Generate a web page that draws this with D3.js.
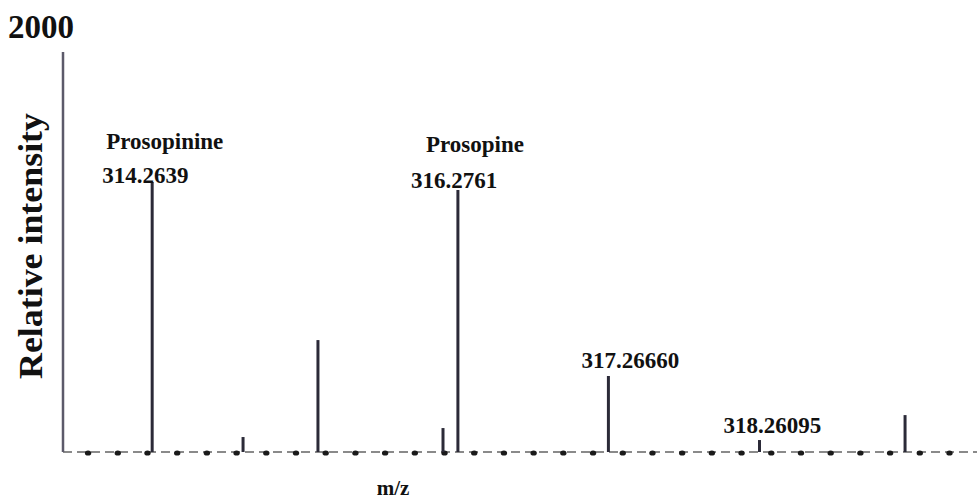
<!DOCTYPE html>
<html>
<head>
<meta charset="utf-8">
<script src="https://cdn.jsdelivr.net/npm/d3@7"></script>
<style>
  body { margin: 0; background: #fff; }
  svg { display: block; }
  text { font-family: "Liberation Serif", "Times New Roman", serif; font-weight: bold; fill: #111; }
</style>
</head>
<body>
<svg id="chart" width="977" height="499"></svg>
<script>
// dados do espectro (m/z e intensidade relativa)
const peakMz = [314.2639, 314.862, 315.355, 316.178, 316.2761, 317.2666, 318.26095, 319.219];
const peakIntensity = [1348, 70, 556, 115, 1308, 376, 55, 180];

// picos anotados
const labelMz = [314.2639, 316.2761, 317.2666, 318.26095];
const labelText = ["314.2639", "316.2761", "317.26660", "318.26095"];
const compoundNames = ["Prosopinine", "Prosopine", "", ""];

const yMaxLabel = "2000";

const svg = d3.select("#chart");
const width = 977, height = 499;
const margin = { top: 52, right: 0, bottom: 48, left: 63 };

const x = d3.scaleLinear()
    .domain([313.677, 319.6925])
    .range([margin.left, width - margin.right]);

const y = d3.scaleLinear()
    .domain([0, 2000])
    .range([height - margin.bottom, margin.top]);

// linha de base tracejada
svg.append("line")
    .attr("x1", x.range()[0])
    .attr("x2", x.range()[1])
    .attr("y1", y(0) + 1)
    .attr("y2", y(0) + 1)
    .attr("stroke", "#8a8a8a")
    .attr("stroke-width", 2)
    .attr("stroke-dasharray", "9,5");

// pontos ao longo da linha de base
const dotTicks = d3.range(313.842, 319.69, 0.1955);
svg.append("g").selectAll("ellipse")
    .data(dotTicks)
    .enter().append("ellipse")
    .attr("cx", d => x(d))
    .attr("cy", y(0) + 2)
    .attr("rx", 3.2)
    .attr("ry", 2.6)
    .attr("fill", "#1a1a1a");

// eixo vertical
svg.append("line")
    .attr("x1", x.range()[0])
    .attr("x2", x.range()[0])
    .attr("y1", y(2000))
    .attr("y2", y(0) + 1)
    .attr("stroke", "#5c5a6a")
    .attr("stroke-width", 2.5);

// picos
svg.append("g").selectAll("line")
    .data(peakMz)
    .enter().append("line")
    .attr("x1", d => x(d))
    .attr("x2", d => x(d))
    .attr("y1", y(0) + 1)
    .attr("y2", (d, i) => y(peakIntensity[i]))
    .attr("stroke", "#2b2a38")
    .attr("stroke-width", 3);

// rótulos dos picos
const numOffset = [[-50, 1], [-47, -2], [-27, -8], [-36, -7]];
const nameOffset = [[-46, -33], [-32, -38]];

labelMz.forEach((m, i) => {
    const k = peakMz.indexOf(m);
    const px = x(m), py = y(peakIntensity[k]);
    svg.append("text")
        .attr("x", px + numOffset[i][0])
        .attr("y", py + numOffset[i][1])
        .attr("font-size", 23)
        .text(labelText[i]);
    if (compoundNames[i]) {
        svg.append("text")
            .attr("x", px + nameOffset[i][0])
            .attr("y", py + nameOffset[i][1])
            .attr("font-size", 23)
            .text(compoundNames[i]);
    }
});

// valor máximo do eixo
svg.append("text")
    .attr("x", 8)
    .attr("y", 38)
    .attr("font-size", 33)
    .text(yMaxLabel);

// título do eixo y
svg.append("text")
    .attr("transform", `translate(42, 246) rotate(-90)`)
    .attr("text-anchor", "middle")
    .attr("font-size", 34)
    .attr("textLength", 266)
    .attr("lengthAdjust", "spacingAndGlyphs")
    .text("Relative intensity");

// título do eixo x
svg.append("text")
    .attr("x", 393)
    .attr("y", 495)
    .attr("text-anchor", "middle")
    .attr("font-size", 21)
    .text("m/z");
</script>
</body>
</html>
